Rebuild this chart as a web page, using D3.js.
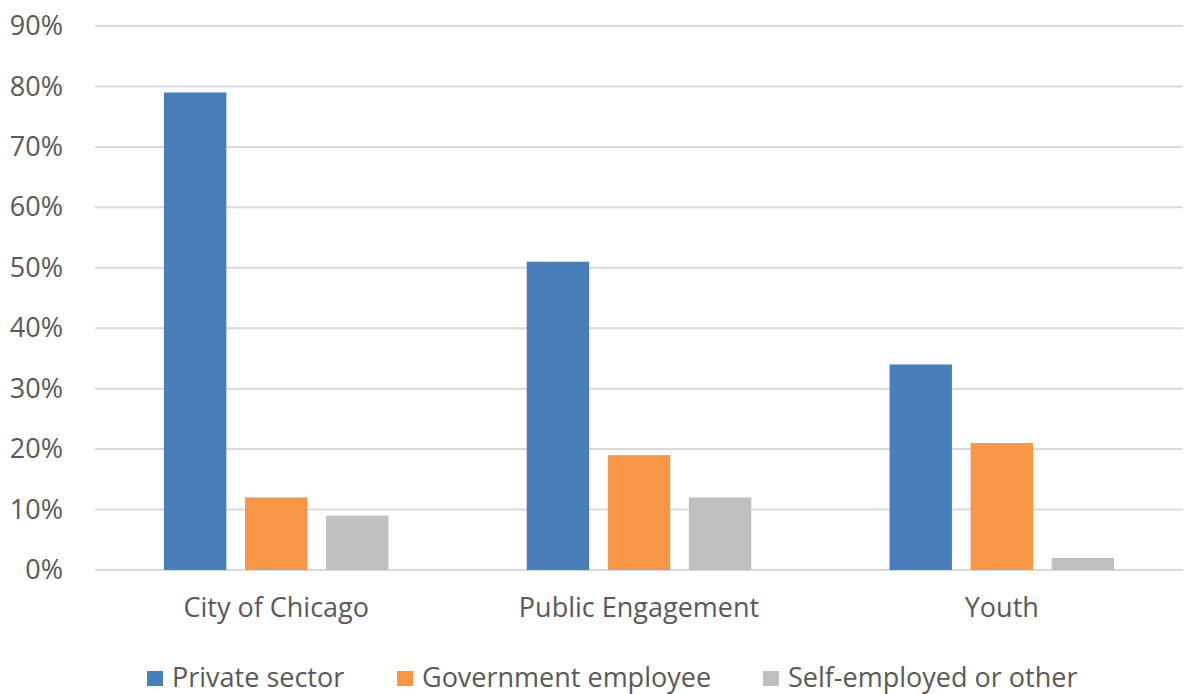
<!DOCTYPE html>
<html>
<head>
<meta charset="utf-8">
<script src="https://cdn.jsdelivr.net/npm/d3@7"></script>
<style>
  body { margin: 0; background: #fff; }
  text { font-family: "Open Sans", sans-serif; fill: #595959; }
</style>
</head>
<body>
<div class="canvas"></div>
<script>
const categories = ['City of Chicago', 'Public Engagement', 'Youth'];
const seriesNames = ['Private sector', 'Government employee', 'Self-employed or other'];
const privateSector = [0.79, 0.51, 0.34];
const government = [0.12, 0.19, 0.21];
const selfEmployed = [0.09, 0.12, 0.02];
const yTicks = [0, 0.1, 0.2, 0.3, 0.4, 0.5, 0.6, 0.7, 0.8, 0.9];
const colors = ['#4a7ebb', '#f79646', '#bfbfbf'];

const values = [privateSector, government, selfEmployed];
const data = categories.map((c, i) => ({
  name: c,
  vals: seriesNames.map((s, j) => ({ series: s, value: values[j][i] }))
}));

const svg = d3.select('.canvas').append('svg')
  .attr('width', 1187)
  .attr('height', 694);

const plot = { left: 95, right: 1183, top: 26, bottom: 570 };
const fontSize = 27;

const y = d3.scaleLinear()
  .domain([0, 0.9])
  .range([plot.bottom, plot.top]);

const x0 = d3.scaleBand()
  .domain(categories)
  .range([plot.left, plot.right])
  .paddingInner(0.381)
  .paddingOuter(0.19);

const x1 = d3.scaleBand()
  .domain(seriesNames)
  .range([0, x0.bandwidth()])
  .paddingInner(0.23);

const color = d3.scaleOrdinal().domain(seriesNames).range(colors);

// gridlines
svg.append('g')
  .selectAll('line')
  .data(yTicks)
  .enter().append('line')
  .attr('x1', plot.left)
  .attr('x2', plot.right)
  .attr('y1', d => y(d))
  .attr('y2', d => y(d))
  .attr('stroke', '#d9d9d9')
  .attr('stroke-width', 2);

// y axis labels
const yAxis = d3.axisLeft(y)
  .tickValues(yTicks)
  .tickFormat(d3.format('.0%'))
  .tickSize(0)
  .tickPadding(32);

const yAxisGroup = svg.append('g')
  .attr('transform', `translate(${plot.left}, 0)`)
  .call(yAxis);
yAxisGroup.select('.domain').remove();
yAxisGroup.selectAll('text')
  .attr('font-size', fontSize)
  .attr('font-family', '"Open Sans", sans-serif')
  .attr('fill', '#595959');

// bars
const groups = svg.append('g')
  .selectAll('g')
  .data(data)
  .enter().append('g')
  .attr('transform', d => `translate(${x0(d.name)}, 0)`);

groups.selectAll('rect')
  .data(d => d.vals)
  .enter().append('rect')
  .attr('x', d => x1(d.series))
  .attr('y', d => y(d.value))
  .attr('width', x1.bandwidth())
  .attr('height', d => plot.bottom - y(d.value))
  .attr('fill', d => color(d.series));

// x axis labels
const xAxis = d3.axisBottom(x0).tickSize(0).tickPadding(28);
const xAxisGroup = svg.append('g')
  .attr('transform', `translate(0, ${plot.bottom})`)
  .call(xAxis);
xAxisGroup.select('.domain').remove();
xAxisGroup.selectAll('text')
  .attr('font-size', fontSize)
  .attr('font-family', '"Open Sans", sans-serif')
  .attr('fill', '#595959');

// legend
const legendX = [147, 397, 763];
const legend = svg.append('g')
  .selectAll('g')
  .data(seriesNames)
  .enter().append('g')
  .attr('transform', (d, i) => `translate(${legendX[i]}, 671)`);

legend.append('rect')
  .attr('width', 16)
  .attr('height', 15)
  .attr('fill', d => color(d));

legend.append('text')
  .attr('x', 25)
  .attr('y', 16)
  .attr('font-size', fontSize)
  .text(d => d);
</script>
</body>
</html>
